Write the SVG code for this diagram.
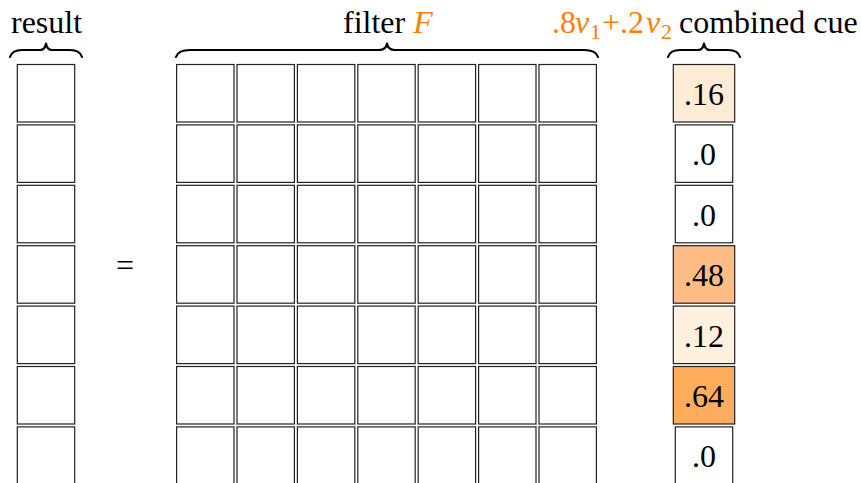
<svg xmlns="http://www.w3.org/2000/svg" width="861" height="483" viewBox="0 0 861 483">
<style>
.t{font-family:"Liberation Serif","Times New Roman",serif;font-size:32px;fill:#000}
.o{fill:#FF8000}
.i{font-style:italic}
.c{fill:#fff;stroke:#222;stroke-width:1.2}
.br{fill:none;stroke:#000;stroke-width:2.2;stroke-linecap:round;stroke-linejoin:round}
.n{text-anchor:middle}
</style>
<defs>
<rect id="cell" width="57.4" height="57.5" class="c"/>
</defs>
<rect width="861" height="483" fill="#fff"/>
<g id="labels">
<text class="t" x="11" y="33">result</text>
<text class="t" x="343" y="33">filter <tspan class="o i">F</tspan></text>
<text class="t o" y="33"><tspan x="552">.8</tspan><tspan class="i" x="575">v</tspan><tspan x="590" y="39" font-size="22">1</tspan><tspan x="602" y="33">+.2</tspan><tspan class="i" x="646">v</tspan><tspan x="661" y="39" font-size="22">2</tspan></text>
<text class="t" x="679" y="33">combined cue</text>
</g>
<g id="braces">
<path class="br" d="M10,57 Q12,50 22,50 L40,50 Q45,50 46,43.5 Q47,50 52,50 L70,50 Q80,50 82,57"/>
<path class="br" d="M176,57 Q178,50 190,50 L379,50 Q386,50 387,43.5 Q388,50 395,50 L584,50 Q596,50 598,57"/>
<path class="br" d="M668,57 Q670,50 680,50 L698,50 Q703,50 704,43.5 Q705,50 710,50 L728,50 Q738,50 740,57"/>
</g>
<g id="result">
<use href="#cell" x="17.3" y="64.5"/>
<use href="#cell" x="17.3" y="124.9"/>
<use href="#cell" x="17.3" y="185.3"/>
<use href="#cell" x="17.3" y="245.7"/>
<use href="#cell" x="17.3" y="306.1"/>
<use href="#cell" x="17.3" y="366.5"/>
<use href="#cell" x="17.3" y="426.9"/>
</g>
<g id="equals"><text class="t n" x="125" y="276">=</text></g>
<g id="filter">
<g id="col1">
<use href="#cell" x="176.6" y="64.5"/><use href="#cell" x="176.6" y="124.9"/><use href="#cell" x="176.6" y="185.3"/><use href="#cell" x="176.6" y="245.7"/><use href="#cell" x="176.6" y="306.1"/><use href="#cell" x="176.6" y="366.5"/><use href="#cell" x="176.6" y="426.9"/>
</g>
<g id="col2">
<use href="#cell" x="237" y="64.5"/><use href="#cell" x="237" y="124.9"/><use href="#cell" x="237" y="185.3"/><use href="#cell" x="237" y="245.7"/><use href="#cell" x="237" y="306.1"/><use href="#cell" x="237" y="366.5"/><use href="#cell" x="237" y="426.9"/>
</g>
<g id="col3">
<use href="#cell" x="297.4" y="64.5"/><use href="#cell" x="297.4" y="124.9"/><use href="#cell" x="297.4" y="185.3"/><use href="#cell" x="297.4" y="245.7"/><use href="#cell" x="297.4" y="306.1"/><use href="#cell" x="297.4" y="366.5"/><use href="#cell" x="297.4" y="426.9"/>
</g>
<g id="col4">
<use href="#cell" x="357.8" y="64.5"/><use href="#cell" x="357.8" y="124.9"/><use href="#cell" x="357.8" y="185.3"/><use href="#cell" x="357.8" y="245.7"/><use href="#cell" x="357.8" y="306.1"/><use href="#cell" x="357.8" y="366.5"/><use href="#cell" x="357.8" y="426.9"/>
</g>
<g id="col5">
<use href="#cell" x="418.2" y="64.5"/><use href="#cell" x="418.2" y="124.9"/><use href="#cell" x="418.2" y="185.3"/><use href="#cell" x="418.2" y="245.7"/><use href="#cell" x="418.2" y="306.1"/><use href="#cell" x="418.2" y="366.5"/><use href="#cell" x="418.2" y="426.9"/>
</g>
<g id="col6">
<use href="#cell" x="478.6" y="64.5"/><use href="#cell" x="478.6" y="124.9"/><use href="#cell" x="478.6" y="185.3"/><use href="#cell" x="478.6" y="245.7"/><use href="#cell" x="478.6" y="306.1"/><use href="#cell" x="478.6" y="366.5"/><use href="#cell" x="478.6" y="426.9"/>
</g>
<g id="col7">
<use href="#cell" x="539" y="64.5"/><use href="#cell" x="539" y="124.9"/><use href="#cell" x="539" y="185.3"/><use href="#cell" x="539" y="245.7"/><use href="#cell" x="539" y="306.1"/><use href="#cell" x="539" y="366.5"/><use href="#cell" x="539" y="426.9"/>
</g>
</g>
<g id="cue">
<g id="cue1"><rect class="c" x="673.3" y="64.5" width="61.4" height="57.5" style="fill:#FFEBD6"/><text class="t n" x="704" y="105">.16</text></g>
<g id="cue2"><use href="#cell" x="675.3" y="124.9"/><text class="t n" x="704" y="165.4">.0</text></g>
<g id="cue3"><use href="#cell" x="675.3" y="185.3"/><text class="t n" x="704" y="225.8">.0</text></g>
<g id="cue4"><rect class="c" x="673.3" y="245.7" width="61.4" height="57.5" style="fill:#FFBD85"/><text class="t n" x="704" y="286.2">.48</text></g>
<g id="cue5"><rect class="c" x="673.3" y="306.1" width="61.4" height="57.5" style="fill:#FFF0E0"/><text class="t n" x="704" y="346.6">.12</text></g>
<g id="cue6"><rect class="c" x="673.3" y="366.5" width="61.4" height="57.5" style="fill:#FFAD5C"/><text class="t n" x="704" y="407">.64</text></g>
<g id="cue7"><use href="#cell" x="675.3" y="426.9"/><text class="t n" x="704" y="467.4">.0</text></g>
</g>
</svg>
